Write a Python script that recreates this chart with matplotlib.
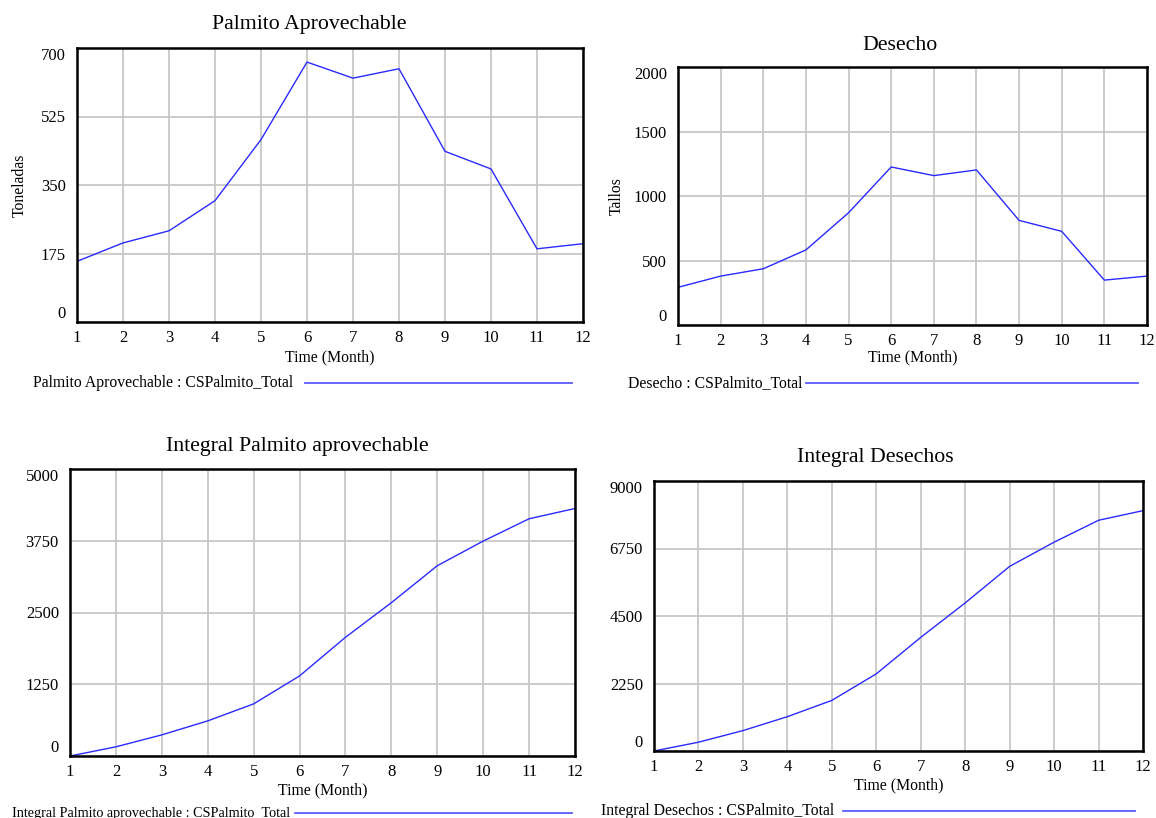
import numpy as np
import matplotlib.pyplot as plt
from matplotlib.lines import Line2D

plt.rcParams['font.family'] = ['Liberation Serif', 'DejaVu Serif']

# Datos por mes (simulacion CSPalmito_Total)
meses = np.arange(1, 13)
palmito = [155, 202, 233, 310, 466, 664, 623, 647, 436, 391, 187, 200]
desecho = [292, 379, 436, 582, 870, 1225, 1158, 1202, 811, 726, 348, 379]
int_palmito = [0, 160, 368, 612, 908, 1395, 2068, 2671, 3315, 3744, 4133, 4312]
int_desecho = [0, 293, 680, 1144, 1686, 2571, 3787, 4937, 6154, 6961, 7691, 8012]

ticks_palmito = [0, 175, 350, 525, 700]
ticks_desecho = [0, 500, 1000, 1500, 2000]
ticks_int_palmito = [0, 1250, 2500, 3750, 5000]
ticks_int_desecho = [0, 2250, 4500, 6750, 9000]

W, H = 1156, 818
fig = plt.figure(figsize=(W / 100, H / 100), dpi=100)


def fx(x):
    return x / W


def fy(y):
    return 1 - y / H


def panel(caja, y, yticks, titulo, tx, ty, ylabel, ylx, lab_y, leyenda, ley_x, ley_line, ley_y, ley_fs=11.3):
    l, t, r, b = caja
    ax = fig.add_axes([fx(l), fy(b), (r - l) / W, (b - t) / H])
    ax.plot(meses, y, color='#2a2aff', lw=1.0)
    ax.set_xlim(1, 12)
    ax.set_ylim(yticks[0], yticks[-1])
    ax.set_xticks(meses)
    ax.set_yticks(yticks)
    ax.set_yticklabels([str(v) for v in yticks])
    labs = ax.get_yticklabels()
    labs[0].set_va('bottom')
    labs[-1].set_va('top')
    ax.grid(True, color='#c8c8c8', lw=1.3)
    ax.tick_params(length=0, labelsize=12, pad=8)
    ax.tick_params(axis='x', pad=6)
    for s in ax.spines.values():
        s.set_linewidth(1.8)
        s.set_color('black')
    fig.text(fx(tx), fy(ty), titulo, fontsize=15.7, ha='center', va='center')
    fig.text(fx((l + r) / 2), fy(lab_y), 'Time (Month)', fontsize=11.3, ha='center', va='center')
    if ylabel:
        fig.text(fx(ylx), fy((t + b) / 2), ylabel, fontsize=11.3, rotation=90, ha='center', va='center')
    fig.text(fx(ley_x), fy(ley_y), leyenda, fontsize=ley_fs, ha='left', va='center')
    fig.add_artist(Line2D([fx(ley_line[0]), fx(ley_line[1])], [fy(ley_y), fy(ley_y)],
                          color='#5a5aff', lw=1.3))
    return ax


panel((77, 48, 583, 322), palmito, ticks_palmito, 'Palmito Aprovechable', 309, 25,
      'Toneladas', 20, 357, 'Palmito Aprovechable : CSPalmito_Total', 33, (305, 572), 383)
panel((678, 67, 1147, 325), desecho, ticks_desecho, 'Desecho', 900, 45,
      'Tallos', 617, 357, 'Desecho : CSPalmito_Total', 628, (806, 1138), 383)
panel((70, 469, 575, 756), int_palmito, ticks_int_palmito, 'Integral Palmito aprovechable', 297, 446,
      None, 0, 790, 'Integral Palmito aprovechable : CSPalmito_Total', 12, (295, 572), 813, ley_fs=10.2)
panel((654, 481, 1143, 751), int_desecho, ticks_int_desecho, 'Integral Desechos', 875, 457,
      None, 0, 785, 'Integral Desechos : CSPalmito_Total', 601, (843, 1135), 811)

plt.savefig('out.png', dpi=100)
